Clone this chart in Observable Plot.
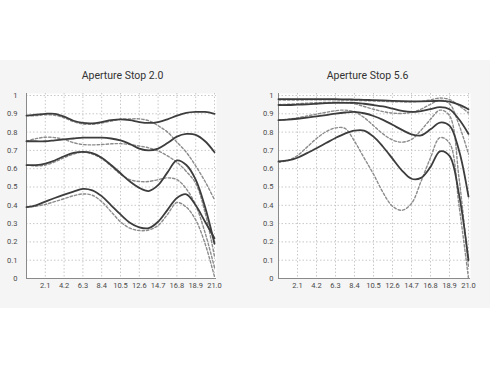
<!DOCTYPE html>
<html>
<head>
<meta charset="utf-8">
<script src="https://cdn.jsdelivr.net/npm/d3@7"></script>
<script src="https://cdn.jsdelivr.net/npm/@observablehq/plot@0.6"></script>
<style>
  html, body { margin: 0; padding: 0; background: #ffffff; }
  body { width: 490px; height: 368px; overflow: hidden; font-family: Roboto, sans-serif; }
  #band { margin-top: 60px; height: 248px; background: #f5f5f5; display: flex; }
  .panel { width: 245px; }
  .title { height: 25px; box-sizing: border-box; padding-top: 11px; line-height: 10px; font-size: 10.5px; color: #333; text-align: center; }
  .panel svg { display: block; overflow: visible; }
</style>
</head>
<body>
<div id="band">
  <div class="panel" id="left"><div class="title">Aperture Stop 2.0</div></div>
  <div class="panel" id="right"><div class="title">Aperture Stop 5.6</div></div>
</div>
<script>
// Shared x positions (field height, mm)
const xs = [0, 1.05, 2.1, 3.15, 4.2, 5.25, 6.3, 7.35, 8.4, 9.45, 10.5, 11.55, 12.6, 13.65, 14.7, 15.75, 16.8, 17.85, 18.9, 19.95, 21];
const xTicks = [2.1, 4.2, 6.3, 8.4, 10.5, 12.6, 14.7, 16.8, 18.9, 21];
const xTickLabels = ["2.1", "4.2", "6.3", "8.4", "10.5", "12.6", "14.7", "16.8", "18.9", "21.0"];
const yTicks = [0, 0.1, 0.2, 0.3, 0.4, 0.5, 0.6, 0.7, 0.8, 0.9, 1];
const yGrid = [0.1, 0.2, 0.3, 0.4, 0.5, 0.6, 0.7, 0.8, 0.9, 1];

// Aperture Stop 2.0
const left1Solid  = [0.89, 0.895, 0.90, 0.90, 0.885, 0.862, 0.85, 0.848, 0.855, 0.865, 0.87, 0.865, 0.855, 0.85, 0.855, 0.87, 0.89, 0.905, 0.91, 0.91, 0.90];
const left1Dashed = [0.89, 0.89, 0.895, 0.892, 0.878, 0.857, 0.845, 0.843, 0.85, 0.86, 0.87, 0.872, 0.872, 0.862, 0.835, 0.80, 0.745, 0.69, 0.615, 0.53, 0.43];
const left2Solid  = [0.75, 0.75, 0.75, 0.755, 0.76, 0.765, 0.77, 0.77, 0.77, 0.765, 0.755, 0.735, 0.71, 0.70, 0.71, 0.74, 0.775, 0.79, 0.785, 0.75, 0.69];
const left2Dashed = [0.75, 0.764, 0.772, 0.77, 0.76, 0.742, 0.732, 0.73, 0.732, 0.736, 0.737, 0.732, 0.724, 0.714, 0.697, 0.67, 0.635, 0.585, 0.52, 0.36, 0.12];
const left3Solid  = [0.62, 0.62, 0.628, 0.645, 0.668, 0.686, 0.692, 0.685, 0.66, 0.62, 0.575, 0.53, 0.495, 0.478, 0.51, 0.58, 0.645, 0.62, 0.54, 0.39, 0.19];
const left3Dashed = [0.62, 0.615, 0.62, 0.637, 0.66, 0.68, 0.69, 0.68, 0.655, 0.615, 0.57, 0.54, 0.53, 0.53, 0.54, 0.55, 0.54, 0.49, 0.40, 0.25, 0.06];
const left4Solid  = [0.39, 0.40, 0.42, 0.44, 0.458, 0.475, 0.49, 0.482, 0.45, 0.40, 0.35, 0.305, 0.28, 0.275, 0.31, 0.375, 0.44, 0.46, 0.40, 0.31, 0.22];
const left4Dashed = [0.39, 0.395, 0.405, 0.42, 0.436, 0.452, 0.462, 0.455, 0.42, 0.365, 0.31, 0.275, 0.262, 0.265, 0.29, 0.35, 0.415, 0.39, 0.32, 0.19, 0.01];

// Aperture Stop 5.6
const right1Solid  = [0.98, 0.98, 0.98, 0.98, 0.98, 0.98, 0.98, 0.979, 0.978, 0.976, 0.975, 0.973, 0.971, 0.969, 0.968, 0.968, 0.969, 0.971, 0.966, 0.95, 0.925];
const right1Dashed = [0.975, 0.975, 0.975, 0.976, 0.976, 0.976, 0.976, 0.975, 0.974, 0.972, 0.97, 0.968, 0.966, 0.965, 0.965, 0.968, 0.976, 0.986, 0.978, 0.945, 0.905];
const right2Solid  = [0.948, 0.948, 0.95, 0.952, 0.955, 0.958, 0.96, 0.96, 0.96, 0.955, 0.948, 0.94, 0.928, 0.916, 0.91, 0.915, 0.926, 0.936, 0.925, 0.87, 0.79];
const right2Dashed = [0.95, 0.952, 0.955, 0.958, 0.96, 0.962, 0.963, 0.962, 0.955, 0.94, 0.925, 0.912, 0.904, 0.902, 0.908, 0.925, 0.952, 0.975, 0.955, 0.84, 0.68];
const right3Solid  = [0.865, 0.868, 0.873, 0.879, 0.886, 0.893, 0.901, 0.907, 0.91, 0.903, 0.888, 0.867, 0.84, 0.812, 0.788, 0.782, 0.815, 0.852, 0.835, 0.70, 0.447];
const right3Dashed = [0.865, 0.87, 0.878, 0.888, 0.898, 0.908, 0.917, 0.92, 0.91, 0.88, 0.835, 0.79, 0.757, 0.745, 0.76, 0.81, 0.87, 0.92, 0.89, 0.55, 0.06];
const right4Solid  = [0.64, 0.645, 0.66, 0.685, 0.712, 0.74, 0.768, 0.792, 0.808, 0.808, 0.775, 0.72, 0.655, 0.59, 0.545, 0.55, 0.61, 0.695, 0.67, 0.46, 0.10];
const right4Dashed = [0.635, 0.645, 0.672, 0.718, 0.765, 0.802, 0.823, 0.82, 0.75, 0.66, 0.57, 0.47, 0.395, 0.373, 0.41, 0.53, 0.66, 0.77, 0.74, 0.40, 0.0];

function tidy(seriesList) {
  const rows = [];
  seriesList.forEach(([name, vals]) => vals.forEach((v, i) => rows.push({series: name, x: xs[i], y: v})));
  return rows;
}

const leftSolid = tidy([["1", left1Solid], ["2", left2Solid], ["3", left3Solid], ["4", left4Solid]]);
const leftDashed = tidy([["1", left1Dashed], ["2", left2Dashed], ["3", left3Dashed], ["4", left4Dashed]]);
const rightSolid = tidy([["1", right1Solid], ["2", right2Solid], ["3", right3Solid], ["4", right4Solid]]);
const rightDashed = tidy([["1", right1Dashed], ["2", right2Dashed], ["3", right3Dashed], ["4", right4Dashed]]);

function chart(solid, dashed, marginLeft, marginRight, yPad) {
  return Plot.plot({
    width: 245,
    height: 213,
    marginLeft,
    marginRight,
    marginTop: 8,
    marginBottom: 20,
    style: {fontFamily: "Roboto, sans-serif", fontSize: "7.5px", color: "#4a4a4a", background: "transparent"},
    x: {domain: [0, 21], insetRight: 2, ticks: xTicks, tickSize: 0, tickPadding: 4,
        tickFormat: d => xTickLabels[xTicks.indexOf(d)], label: null},
    y: {domain: [0, 1], insetTop: 2, ticks: yTicks, tickSize: 0, tickPadding: yPad,
        tickFormat: d => String(d), label: null},
    marks: [
      Plot.frame({fill: "white", stroke: null}),
      Plot.ruleX(xTicks, {stroke: "#c8c8c8", strokeDasharray: "1.5,2", strokeWidth: 1}),
      Plot.ruleY(yGrid, {stroke: "#c8c8c8", strokeDasharray: "1.5,2", strokeWidth: 1}),
      Plot.ruleX([0], {stroke: "#8a8a8a", strokeWidth: 1}),
      Plot.ruleY([0], {stroke: "#8a8a8a", strokeWidth: 1}),
      Plot.line(dashed, {x: "x", y: "y", z: "series", stroke: "#8c8c8c", strokeWidth: 1.4, strokeDasharray: "2.5,2", curve: "catmull-rom"}),
      Plot.line(solid, {x: "x", y: "y", z: "series", stroke: "#3d3d3d", strokeWidth: 1.8, curve: "catmull-rom"})
    ]
  });
}

document.getElementById("left").appendChild(chart(leftSolid, leftDashed, 26, 29, 9));
document.getElementById("right").appendChild(chart(rightSolid, rightDashed, 33, 20, 5));
</script>
</body>
</html>
